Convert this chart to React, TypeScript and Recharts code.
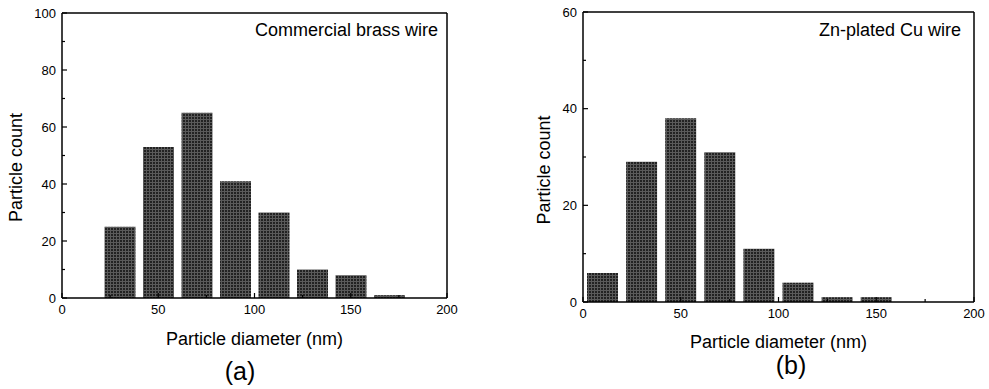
import React from 'react';
import { BarChart, Bar, XAxis, YAxis, ReferenceLine } from 'recharts';

// ---------- data ----------
const brassCenters = [30, 50, 70, 90, 110, 130, 150, 170];
const brassCounts = [25, 53, 65, 41, 30, 10, 8, 1];
const znCenters = [10, 30, 50, 70, 90, 110, 130, 150];
const znCounts = [6, 29, 38, 31, 11, 4, 1, 1];
const xTicks = [0, 25, 50, 75, 100, 125, 150, 175, 200];
const brassYTicks = [0, 10, 20, 30, 40, 50, 60, 70, 80, 90, 100];
const znYTicks = [0, 10, 20, 30, 40, 50, 60];
const xTitle = 'Particle diameter (nm)';
const yTitle = 'Particle count';
const brassNote = 'Commercial brass wire';
const znNote = 'Zn-plated Cu wire';

const brassData = brassCenters.map((d, i) => ({ d, n: brassCounts[i] }));
const znData = znCenters.map((d, i) => ({ d, n: znCounts[i] }));

const FONT = '"Liberation Sans", Arial, Helvetica, sans-serif';

const XTick = (props: any) => {
  const { x, y, payload } = props;
  const major = payload.value % 50 === 0;
  return (
    <g>
      <line x1={x} x2={x} y1={y} y2={y - (major ? 5 : 3)} stroke="#000" strokeWidth={1.2} />
      {major && (
        <text x={x} y={y + 6} dy="0.75em" textAnchor="middle" fontSize={13} fontFamily={FONT} fill="#000">
          {payload.value}
        </text>
      )}
    </g>
  );
};

const YTick = (props: any) => {
  const { x, y, payload } = props;
  const major = payload.value % 20 === 0;
  return (
    <g>
      <line x1={x} x2={x + (major ? 5 : 3)} y1={y} y2={y} stroke="#000" strokeWidth={1.2} />
      {major && (
        <text x={x - 6} y={y} dy="0.36em" textAnchor="end" fontSize={13} fontFamily={FONT} fill="#000">
          {payload.value}
        </text>
      )}
    </g>
  );
};

type PanelProps = {
  data: { d: number; n: number }[];
  yMax: number;
  yTicks: number[];
  width: number;
  left: number;
  margin: { top: number; right: number; bottom: number; left: number };
  barSize: number;
  xTitleDy: number;
  yTitleX: number;
  yTitleShift: number;
  patternId: string;
};

const Panel = (p: PanelProps) => (
  <div style={{ position: 'absolute', left: p.left, top: 0 }}>
    <BarChart width={p.width} height={389} data={p.data} margin={p.margin}>
      <defs>
        <pattern id={p.patternId} width="3" height="3" patternUnits="userSpaceOnUse">
          <rect width="3" height="3" fill="#222" />
          <rect x="2" width="1" height="3" fill="#5a5a5a" />
          <rect y="2" width="3" height="1" fill="#5a5a5a" />
        </pattern>
      </defs>
      <XAxis
        dataKey="d"
        type="number"
        domain={[0, 200]}
        ticks={xTicks}
        interval={0}
        tickSize={0}
        tickMargin={0}
        tickLine={false}
        tick={<XTick />}
        height={30}
        axisLine={{ stroke: '#000', strokeWidth: 1.5 }}
        label={{
          content: (lp: any) => {
            const vb = lp.viewBox;
            return (
              <text x={vb.x + vb.width / 2} y={vb.y + p.xTitleDy} textAnchor="middle" fontSize={18} fontFamily={FONT} fill="#000">
                {xTitle}
              </text>
            );
          },
        }}
      />
      <YAxis
        type="number"
        domain={[0, p.yMax]}
        ticks={p.yTicks}
        interval={0}
        tickSize={0}
        tickMargin={0}
        tickLine={false}
        tick={<YTick />}
        width={40}
        axisLine={{ stroke: '#000', strokeWidth: 1.5 }}
        label={{
          content: (lp: any) => {
            const vb = lp.viewBox;
            const cy = vb.y + vb.height / 2 + p.yTitleShift;
            return (
              <text
                x={p.yTitleX}
                y={cy}
                transform={`rotate(-90, ${p.yTitleX}, ${cy})`}
                textAnchor="middle"
                fontSize={18}
                fontFamily={FONT}
                fill="#000"
              >
                {yTitle}
              </text>
            );
          },
        }}
      />
      <ReferenceLine y={p.yMax} stroke="#000" strokeWidth={1.5} ifOverflow="extendDomain" />
      <ReferenceLine x={200} stroke="#000" strokeWidth={1.5} ifOverflow="extendDomain" />
      <Bar dataKey="n" fill={`url(#${p.patternId})`} barSize={p.barSize} isAnimationActive={false} />
    </BarChart>
  </div>
);

export default function App() {
  return (
    <div style={{ position: 'absolute', left: 0, top: 0, width: 989, height: 389, background: '#fff', overflow: 'hidden' }}>
      <Panel
        data={brassData}
        yMax={100}
        yTicks={brassYTicks}
        width={470}
        left={0}
        margin={{ top: 13, right: 23, bottom: 61, left: 22 }}
        barSize={31}
        xTitleDy={47}
        yTitleX={22}
        yTitleShift={12}
        patternId="hatchA"
      />
      <Panel
        data={znData}
        yMax={60}
        yTicks={znYTicks}
        width={469}
        left={520}
        margin={{ top: 12, right: 15, bottom: 57, left: 23 }}
        barSize={31}
        xTitleDy={46}
        yTitleX={30}
        yTitleShift={13}
        patternId="hatchB"
      />
      <svg width={989} height={389} style={{ position: 'absolute', left: 0, top: 0, pointerEvents: 'none' }}>
        <text x={438} y={36} textAnchor="end" fontSize={18} fontFamily={FONT} fill="#000">{brassNote}</text>
        <text x={961} y={36} textAnchor="end" fontSize={18} fontFamily={FONT} fill="#000">{znNote}</text>
        <text x={240} y={380} textAnchor="middle" fontSize={25} fontFamily={FONT} fill="#000">(a)</text>
        <text x={791} y={374} textAnchor="middle" fontSize={25} fontFamily={FONT} fill="#000">(b)</text>
      </svg>
    </div>
  );
}
